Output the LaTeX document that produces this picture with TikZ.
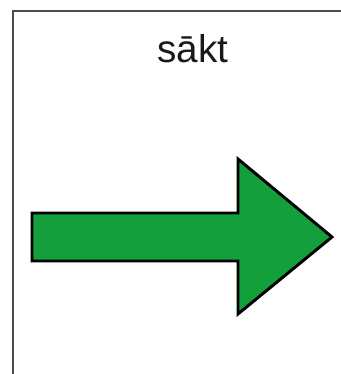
\documentclass[tikz,border=0pt]{standalone}
\usepackage{fontspec}
\setmainfont{Liberation Sans}
\usepackage{tikz}
\definecolor{arrowgreen}{HTML}{13A03C}
\tikzstyle{frame} = [draw=black!70, line width=2pt]
\tikzstyle{label} = [font=\fontsize{29}{33}\selectfont, text=black!90, anchor=base]
\tikzstyle{bigarrow} = [draw=black, line width=2.2pt, line join=miter, fill=arrowgreen]

\begin{document}
\begin{tikzpicture}[x=0.75pt, y=-0.75pt]
	\useasboundingbox (0,0) rectangle (341,374);
	\draw [frame] (13,374) -- (13,11) -- (341,11);
	\node (title) [label] at (193,63) {sākt};
	\draw [bigarrow] (32,213) -- (238,213) -- (238,159) -- (332,237) -- (238,314) -- (238,261) -- (32,261) -- cycle;
\end{tikzpicture}
\end{document}
